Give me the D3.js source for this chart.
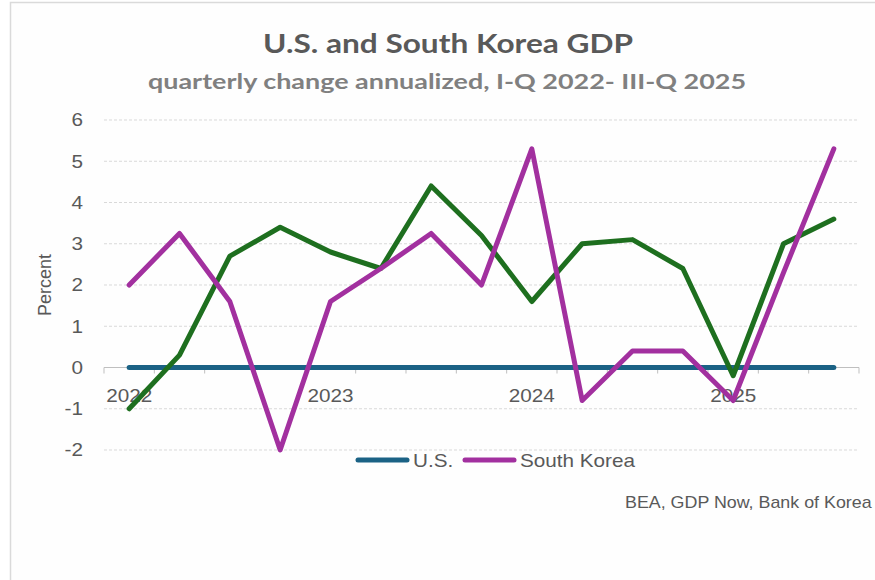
<!DOCTYPE html>
<html>
<head>
<meta charset="utf-8">
<script src="https://cdn.jsdelivr.net/npm/d3@7/dist/d3.min.js"></script>
<style>
  body { margin: 0; background: #ffffff; }
  svg { display: block; }
</style>
</head>
<body>
<svg id="chart" width="875" height="580"></svg>
<script>
// Quarterly categories, I-Q 2022 through III-Q 2025
const quarters = ["2022Q1", "2022Q2", "2022Q3", "2022Q4",
                  "2023Q1", "2023Q2", "2023Q3", "2023Q4",
                  "2024Q1", "2024Q2", "2024Q3", "2024Q4",
                  "2025Q1", "2025Q2", "2025Q3"];
const xTickLabels = ["2022", "", "", "", "2023", "", "", "", "2024", "", "", "", "2025", "", ""];
const yTicks = [-2, -1, 0, 1, 2, 3, 4, 5, 6];

// Series: percent change, annualized
const usLegendLine = [0, 0, 0, 0, 0, 0, 0, 0, 0, 0, 0, 0, 0, 0, 0];
const usGrowth = [-1.0, 0.3, 2.7, 3.4, 2.8, 2.4, 4.4, 3.2, 1.6, 3.0, 3.1, 2.4, -0.2, 3.0, 3.6];
const koreaGrowth = [2.0, 3.25, 1.6, -2.0, 1.6, 2.4, 3.25, 2.0, 5.3, -0.8, 0.4, 0.4, -0.8, 2.3, 5.3];

const seriesNames = ["U.S.", "South Korea"];
const colors = { us: "#1b6285", usGrowth: "#1e6f1f", korea: "#a2309f" };

const svg = d3.select("#chart");
const SX = 1.15;              // horizontal widening applied to axis and legend text
const textFont = "'Liberation Sans', Arial, sans-serif";
const titleFont = "Lato, 'Open Sans', sans-serif";
const textColor = "#595959";

const x = d3.scaleBand().domain(quarters).range([104, 859]).paddingInner(0).paddingOuter(0);
const y = d3.scaleLinear().domain([-2, 6]).range([450, 120]);
const cx = q => x(q) + x.bandwidth() / 2;

// Chart frame
svg.append("rect")
  .attr("x", 10.5).attr("y", 2.5)
  .attr("width", 900).attr("height", 600)
  .attr("fill", "#fefefe")
  .attr("stroke", "#dadada").attr("stroke-width", 1.5);

// Titles
svg.append("text")
  .attr("x", 448).attr("y", 53)
  .attr("text-anchor", "middle")
  .attr("font-family", titleFont).attr("font-weight", 700).attr("font-size", 27)
  .attr("fill", "#595959")
  .attr("textLength", 370).attr("lengthAdjust", "spacingAndGlyphs")
  .text("U.S. and South Korea GDP");

svg.append("text")
  .attr("x", 447).attr("y", 89)
  .attr("text-anchor", "middle")
  .attr("font-family", titleFont).attr("font-weight", 700).attr("font-size", 21)
  .attr("fill", "#808080")
  .attr("textLength", 598).attr("lengthAdjust", "spacingAndGlyphs")
  .text("quarterly change annualized, I-Q 2022- III-Q 2025");

// Horizontal gridlines
svg.append("g")
  .selectAll("line")
  .data(yTicks)
  .join("line")
  .attr("x1", x.range()[0]).attr("x2", x.range()[1])
  .attr("y1", d => y(d)).attr("y2", d => y(d))
  .attr("stroke", "#d9d9d9").attr("stroke-width", 1)
  .attr("stroke-dasharray", "3,2");

// Y axis labels (plain hyphen for negatives)
const yAxis = svg.append("g")
  .attr("transform", `translate(${x.range()[0]},0)`)
  .call(d3.axisLeft(y).tickValues(yTicks).tickSize(0).tickPadding(21).tickFormat(d => String(d)));
yAxis.select(".domain").remove();
yAxis.selectAll("text")
  .attr("x", 0)
  .attr("transform", `translate(-21,0) scale(${SX},1)`)
  .attr("font-family", textFont).attr("font-size", 18)
  .attr("fill", textColor);

// Horizontal axis at zero with category boundary ticks
const boundaries = quarters.map(q => x(q)).concat([x.range()[1]]);
const xAxisG = svg.append("g").attr("transform", `translate(0,${y(0)})`);
xAxisG.append("line")
  .attr("x1", x.range()[0]).attr("x2", x.range()[1])
  .attr("stroke", "#bfbfbf").attr("stroke-width", 1);
xAxisG.selectAll(".bound")
  .data(boundaries)
  .join("line")
  .attr("class", "bound")
  .attr("x1", d => d).attr("x2", d => d)
  .attr("y1", 0).attr("y2", 6)
  .attr("stroke", "#bfbfbf").attr("stroke-width", 1);

const xAxis = svg.append("g")
  .attr("transform", `translate(0,${y(0)})`)
  .call(d3.axisBottom(x).tickSize(0).tickPadding(22).tickFormat((d, i) => xTickLabels[i]));
xAxis.select(".domain").remove();
xAxis.selectAll("text")
  .attr("transform", `scale(${SX},1)`)
  .attr("x", 0)
  .attr("font-family", textFont).attr("font-size", 18)
  .attr("fill", textColor);

// Y axis title
svg.append("text")
  .attr("transform", `translate(51,${(y(-2) + y(6)) / 2}) rotate(-90)`)
  .attr("text-anchor", "middle")
  .attr("font-family", textFont).attr("font-size", 18)
  .attr("fill", textColor)
  .text("Percent");

// Lines
const line = d3.line()
  .x((d, i) => cx(quarters[i]))
  .y(d => y(d));

const drawSeries = (values, color) =>
  svg.append("path")
    .datum(values)
    .attr("d", line)
    .attr("fill", "none")
    .attr("stroke", color)
    .attr("stroke-width", 5)
    .attr("stroke-linejoin", "round")
    .attr("stroke-linecap", "round");

drawSeries(usLegendLine, colors.us);
drawSeries(usGrowth, colors.usGrowth);
drawSeries(koreaGrowth, colors.korea);

// Legend
const legendItems = [
  { name: seriesNames[0], color: colors.us, x: 358 },
  { name: seriesNames[1], color: colors.korea, x: 465 }
];
const legend = svg.append("g").attr("transform", "translate(0,460)");
const li = legend.selectAll("g").data(legendItems).join("g")
  .attr("transform", d => `translate(${d.x},0)`);
li.append("line")
  .attr("x1", 0).attr("x2", 49)
  .attr("stroke", d => d.color).attr("stroke-width", 5)
  .attr("stroke-linecap", "round");
li.append("text")
  .attr("transform", `translate(55,6.5) scale(${SX},1)`)
  .attr("font-family", textFont).attr("font-size", 18)
  .attr("fill", textColor)
  .text(d => d.name);

// Source note
svg.append("text")
  .attr("transform", "translate(625,508) scale(1.05,1)")
  .attr("font-family", textFont).attr("font-size", 17)
  .attr("fill", textColor)
  .text("BEA, GDP Now, Bank of Korea");
</script>
</body>
</html>
